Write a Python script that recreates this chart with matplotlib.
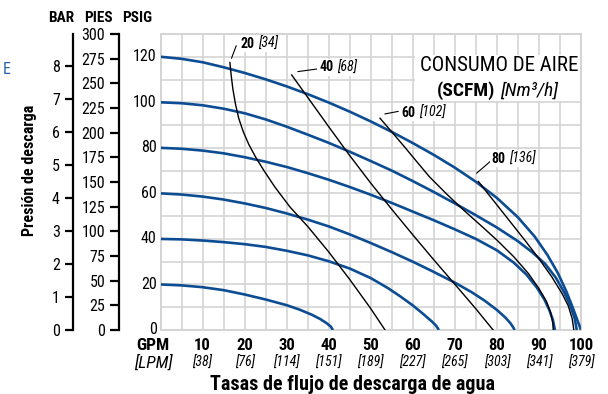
import matplotlib
matplotlib.use("Agg")
import matplotlib.pyplot as plt
from matplotlib import font_manager as fm
from matplotlib.patches import Rectangle
import numpy as np

# ---- fonts: prefer a narrow sans face ----
_names = {f.name for f in fm.fontManager.ttflist}
for cand in ["Liberation Sans Narrow", "Roboto Condensed", "DejaVu Sans Condensed", "Roboto", "DejaVu Sans"]:
    if cand in _names:
        FAM = cand
        break
plt.rcParams["font.family"] = [FAM, "DejaVu Sans"]

BLUE = "#0c4c92"
GRID = "#d4d4d4"

# ---- data: discharge pressure (psig) vs flow (GPM) for each air inlet pressure ----
psi20_gpm = [0, 5, 10, 15, 20, 25, 30, 33, 36, 38, 39.5, 40.5, 41]
psi20_p = [20, 19.6, 18.8, 17.5, 15.6, 13.4, 10.9, 9.0, 6.7, 4.8, 3.0, 1.5, 0]

psi40_gpm = [0, 5, 10, 15, 20, 25, 30, 35, 40, 45, 50, 54, 57, 60, 62.5, 64.5, 65.5, 66.2]
psi40_p = [40, 39.8, 39.3, 38.6, 37.7, 36.5, 34.8, 32.8, 30.2, 27.0, 22.8, 18.5, 14.8, 10.8, 7.0, 3.8, 2.0, 0]

psi60_gpm = [0, 5, 10, 15, 20, 25, 30, 35, 40, 45, 50, 55, 60, 65, 70, 74, 77, 80, 82, 83.3, 84, 84.2]
psi60_p = [60, 59.5, 58.6, 57.3, 55.6, 53.6, 51.2, 48.5, 45.5, 42.0, 38.2, 34.2, 30.0, 25.5,
           20.8, 16.6, 13.0, 8.8, 5.5, 2.8, 0.8, 0]

psi80_gpm = [0, 5, 10, 15, 20, 25, 30, 35, 40, 45, 50, 55, 60, 65, 70, 75, 80, 84, 87, 89.5,
             91.3, 92.5, 93.3, 93.8]
psi80_p = [80, 79.6, 78.8, 77.6, 75.9, 73.9, 71.6, 68.9, 66.0, 62.8, 59.4, 55.8, 52.0, 48.2,
           44.2, 40.0, 35.0, 29.6, 24.4, 18.6, 13.4, 8.6, 4.5, 0]

psi100_gpm = [0, 5, 10, 15, 20, 25, 30, 35, 40, 45, 50, 55, 60, 65, 70, 75, 80, 85, 88.5,
              91.5, 94, 96, 97.5, 98.5, 99]
psi100_p = [100, 99.6, 98.7, 97.2, 95.2, 92.5, 89.3, 85.8, 82.2, 78.3, 74.2, 70.0, 65.4, 60.6,
            55.6, 50.4, 45.0, 39.0, 34.0, 29.0, 23.0, 16.5, 10.5, 5.0, 0]

psi120_gpm = [0, 5, 10, 15, 20, 25, 30, 35, 40, 45, 50, 55, 60, 65, 70, 75, 80, 85, 89, 92,
              94.5, 96.5, 98, 99.2, 100]
psi120_p = [120, 119.1, 117.6, 115.4, 112.9, 110.1, 107.0, 103.6, 99.9, 95.9, 91.6, 87.0, 82.1,
            76.9, 71.3, 65.1, 58.0, 49.5, 41.0, 33.0, 25.0, 17.0, 10.0, 4.0, 0]

# ---- data: constant air consumption lines (SCFM) ----
scfm20_gpm = [16.5, 16.8, 17.2, 17.8, 18.6, 19.7, 21, 22.6, 24.6, 27.2, 30.8, 35, 40, 45, 50, 53.4]
scfm20_p = [117.5, 112, 106, 99.5, 93, 87, 81.5, 76, 70, 62.8, 54, 45.5, 34.3, 22.2, 9.4, 0]

scfm40_gpm = [31.2, 35, 40, 45, 50, 55, 60, 65, 70, 75, 79.1]
scfm40_p = [112, 102.2, 89.3, 76.6, 64.5, 53, 41.8, 30.8, 20.1, 9.3, 0]

scfm60_gpm = [52.2, 55, 58, 61, 64, 68, 72, 76, 80, 84, 87.5, 90, 91.8, 92.8, 93.3, 93.4]
scfm60_p = [93, 87, 80.5, 73.8, 67.2, 59.8, 52.8, 46.2, 39.5, 32.2, 24.8, 18.2, 12.5, 7.5, 3, 0]

scfm80_gpm = [75.6, 78, 81, 84, 87, 90, 93, 95.5, 97, 97.9, 98.3]
scfm80_p = [65.2, 59.6, 52.6, 45.6, 38.6, 31.3, 23.5, 16, 10.5, 5, 0]

scfm_labels = ["20", "40", "60", "80"]
nm3h_labels = ["[34]", "[68]", "[102]", "[136]"]

gpm_ticks = [10, 20, 30, 40, 50, 60, 70, 80, 90, 100]
lpm_labels = ["[38]", "[76]", "[114]", "[151]", "[189]", "[227]", "[265]", "[303]", "[341]", "[379]"]
psig_ticks = [0, 20, 40, 60, 80, 100, 120]
bar_ticks = [0, 1, 2, 3, 4, 5, 6, 7, 8]
ft_ticks = [0, 25, 50, 75, 100, 125, 150, 175, 200, 225, 250, 275, 300]

PSI_MAX = 130
PSI_PER_BAR = 14.5038
PSI_PER_FT = 0.4335

# ---- figure layout ----
W, H = 608, 394
fig = plt.figure(figsize=(W / 100, H / 100), dpi=100)
X0, X1, Y0, Y1 = 160.5, 581, 330, 34
ax = fig.add_axes([X0 / W, 1 - Y0 / H, (X1 - X0) / W, (Y0 - Y1) / H])
ax.set_xlim(0, 100)
ax.set_ylim(0, PSI_MAX)

ax.set_xticks(np.arange(0, 101, 5))
ax.set_yticks(np.arange(0, 131, 10))
ax.grid(True, color=GRID, linewidth=1.2, zorder=0)
ax.tick_params(length=0, labelbottom=False, labelleft=False)
for s in ax.spines.values():
    s.set_color(GRID)
    s.set_linewidth(1.4)

# main psig labels
for v in psig_ticks:
    ax.text(-0.9, v, str(v), ha="right", va="center", fontsize=11.5,
            transform=ax.transData, clip_on=False)

# pump curves
for gx, py in [(psi20_gpm, psi20_p), (psi40_gpm, psi40_p), (psi60_gpm, psi60_p),
               (psi80_gpm, psi80_p), (psi100_gpm, psi100_p), (psi120_gpm, psi120_p)]:
    ax.plot(gx, py, color=BLUE, linewidth=1.9, solid_capstyle="butt",
            solid_joinstyle="round", zorder=3)

# air consumption lines
for gx, py in [(scfm20_gpm, scfm20_p), (scfm40_gpm, scfm40_p),
               (scfm60_gpm, scfm60_p), (scfm80_gpm, scfm80_p)]:
    ax.plot(gx, py, color="black", linewidth=1.0, solid_joinstyle="round", zorder=4)

# consumption labels with leader ticks
leaders = [((16.9, 119.4), (18.0, 124.8)), ((32.7, 113.5), (37.1, 114.6)),
           ((53.4, 94.9), (56.5, 96.0)), ((75.2, 68.9), (78.4, 74.0))]
label_pos = [(19.1, 125.7), (37.9, 115.3), (57.4, 95.5), (78.8, 75.2)]
for (a, b), (lx, ly), n, m in zip(leaders, label_pos, scfm_labels, nm3h_labels):
    ax.plot([a[0], b[0]], [a[1], b[1]], color="black", linewidth=0.8, zorder=4)
    t1 = ax.text(lx, ly, n, ha="left", va="center", fontsize=10, fontweight="bold",
                 zorder=5, bbox=dict(facecolor="white", edgecolor="none", pad=1))
    ax.annotate(m, xy=(1, 0.5), xycoords=t1, xytext=(2.5, 0), textcoords="offset points",
                ha="left", va="center", fontsize=10, fontstyle="italic", zorder=5,
                bbox=dict(facecolor="white", edgecolor="none", pad=1))

# legend box
ax.add_patch(Rectangle((60.5, 100.7), 39.5, 20.2, facecolor="white", edgecolor="none", zorder=2))
ax.text(80.6, 116, "CONSUMO DE AIRE", ha="center", va="center", fontsize=15, zorder=5)
t_scfm = ax.text(79.6, 105.3, "(SCFM)", ha="right", va="center", fontsize=14,
                 fontweight="bold", zorder=5)
ax.annotate("[Nm³/h]", xy=(1, 0.5), xycoords=t_scfm, xytext=(3.5, 0), textcoords="offset points",
            ha="left", va="center", fontsize=14, fontstyle="italic", zorder=5)

# x tick labels (GPM bold, LPM italic)
trans_x = ax.get_xaxis_transform()
yb = -16 / (Y0 - Y1)
yl = -33 / (Y0 - Y1)
for g, l in zip(gpm_ticks, lpm_labels):
    ax.text(g, yb, str(g), transform=trans_x, ha="center", va="center",
            fontsize=12, fontweight="bold", clip_on=False)
    ax.text(g, yl, l, transform=trans_x, ha="center", va="center",
            fontsize=10, fontstyle="italic", clip_on=False)
ax.text(-1.9, yb, "GPM", transform=trans_x, ha="center", va="center",
        fontsize=12.5, fontweight="bold", clip_on=False)
ax.text(-1.6, yl, "[LPM]", transform=trans_x, ha="center", va="center",
        fontsize=12.5, fontstyle="italic", clip_on=False)
fig.text(352 / W, 1 - 385 / H, "Tasas de flujo de descarga de agua", ha="center",
         va="center", fontsize=14.5, fontweight="bold")

# BAR and PIES scales
def side_axis(xpx, top, ticks, ticklen):
    a = fig.add_axes([xpx / W, 1 - Y0 / H, 0.0001, (Y0 - Y1) / H])
    a.set_ylim(0, top)
    a.set_xticks([])
    a.set_yticks(ticks)
    a.set_yticklabels([str(t) for t in ticks])
    a.patch.set_visible(False)
    for k in ("top", "right", "bottom"):
        a.spines[k].set_visible(False)
    a.spines["left"].set_linewidth(1.6)
    a.tick_params(axis="y", direction="out", length=ticklen, width=1.6,
                  pad=3.5, labelsize=11.5)
    return a

side_axis(73, PSI_MAX / PSI_PER_BAR, bar_ticks, 6)
side_axis(119, PSI_MAX / PSI_PER_FT, ft_ticks, 6.5)

# headers
for x, s in [(61, "BAR"), (98, "PIES"), (137, "PSIG")]:
    fig.text(x / W, 1 - 17.5 / H, s, ha="center", va="center", fontsize=11, fontweight="bold")

fig.text(30 / W, 1 - 170 / H, "Presión de descarga", ha="center", va="center",
         rotation=90, fontsize=11.5, fontweight="bold")
fig.text(3 / W, 1 - 70 / H, "E", ha="left", va="center", fontsize=11.5, color="#2a64a4")

fig.savefig("out.png", dpi=100)
